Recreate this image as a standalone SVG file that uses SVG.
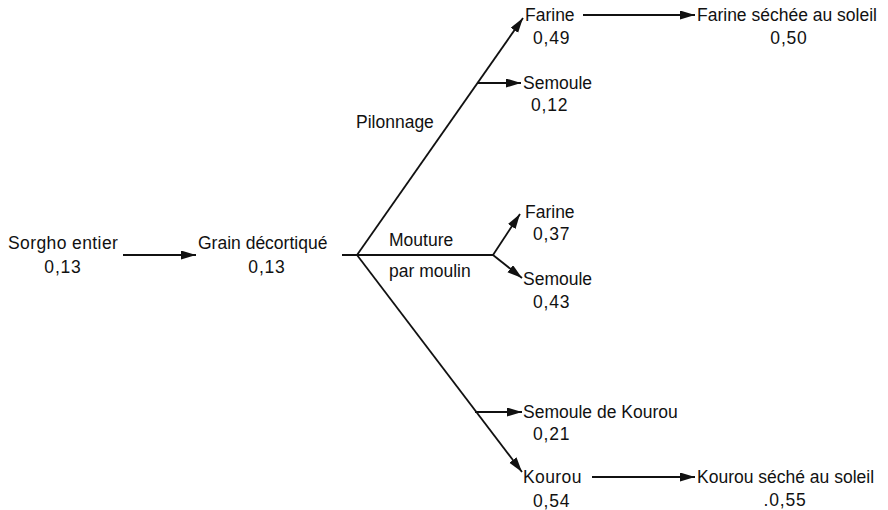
<svg xmlns="http://www.w3.org/2000/svg" width="888" height="510" viewBox="0 0 888 510">
<style>
text{font-family:"Liberation Sans",Arial,sans-serif;font-size:17.5px;fill:#111}
.n{text-anchor:middle}
.c{fill:none;stroke:#111;stroke-width:1.8}
</style>
<defs>
<marker id="ah" markerUnits="userSpaceOnUse" markerWidth="16" markerHeight="10" refX="15" refY="4.5" orient="auto">
<path d="M0,0 L15,4.5 L0,9 Z" fill="#111"/>
</marker>
</defs>
<rect width="888" height="510" fill="#fff"/>
<g id="connectors">
<line class="c" x1="123" y1="255" x2="196" y2="255" marker-end="url(#ah)"/>
<line class="c" x1="342" y1="255" x2="493" y2="255"/>
<line class="c" x1="357" y1="255" x2="523" y2="18" marker-end="url(#ah)"/>
<line class="c" x1="477" y1="83" x2="521" y2="83" marker-end="url(#ah)"/>
<line class="c" x1="357" y1="255" x2="522" y2="472" marker-end="url(#ah)"/>
<line class="c" x1="475" y1="412" x2="522" y2="412" marker-end="url(#ah)"/>
<line class="c" x1="493" y1="255" x2="520" y2="214" marker-end="url(#ah)"/>
<line class="c" x1="493" y1="255" x2="522" y2="278" marker-end="url(#ah)"/>
<line class="c" x1="583" y1="15" x2="695" y2="15" marker-end="url(#ah)"/>
<line class="c" x1="592" y1="477" x2="695" y2="477" marker-end="url(#ah)"/>
</g>
<g id="sorgho"><text x="8" y="249" letter-spacing="0.4">Sorgho entier</text><text class="n" x="63" y="273" letter-spacing="0.8">0,13</text></g>
<g id="grain"><text x="198" y="249">Grain décortiqué</text><text class="n" x="267" y="273" letter-spacing="0.8">0,13</text></g>
<g id="pilonnage"><text x="356" y="128">Pilonnage</text></g>
<g id="mouture"><text x="389" y="246">Mouture</text><text x="389" y="277">par moulin</text></g>
<g id="farine1"><text x="525" y="21">Farine</text><text x="533" y="44" letter-spacing="0.8">0,49</text></g>
<g id="semoule1"><text x="523" y="89">Semoule</text><text x="531" y="111" letter-spacing="0.8">0,12</text></g>
<g id="farine2"><text x="525" y="218">Farine</text><text x="533" y="240" letter-spacing="0.8">0,37</text></g>
<g id="semoule2"><text x="523" y="285">Semoule</text><text x="533" y="308" letter-spacing="0.8">0,43</text></g>
<g id="semoule3"><text x="523" y="418">Semoule de Kourou</text><text x="533" y="440" letter-spacing="0.8">0,21</text></g>
<g id="kourou"><text x="523" y="483" letter-spacing="0.4">Kourou</text><text x="533" y="507" letter-spacing="0.8">0,54</text></g>
<g id="farine-sechee"><text x="697" y="21">Farine séchée au soleil</text><text class="n" x="789" y="44" letter-spacing="0.8">0,50</text></g>
<g id="kourou-seche"><text x="697" y="483">Kourou séché au soleil</text><text class="n" x="785" y="506" letter-spacing="0.8">.0,55</text></g>
</svg>
